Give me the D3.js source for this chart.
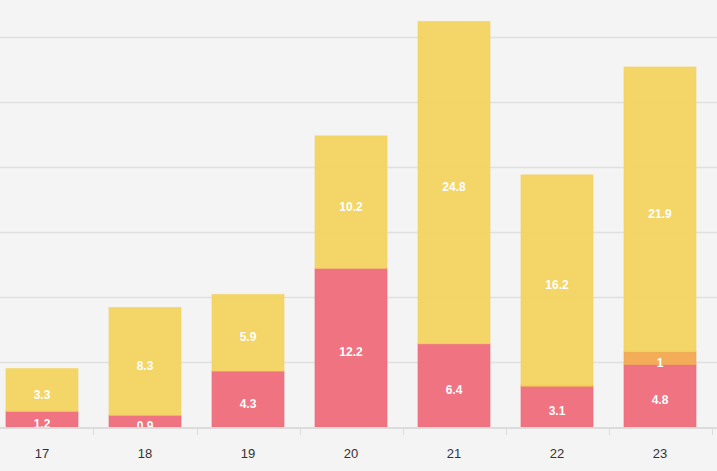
<!DOCTYPE html>
<html>
<head>
<meta charset="utf-8">
<script src="https://cdn.jsdelivr.net/npm/d3@7"></script>
<style>
  html, body { margin: 0; padding: 0; background: #f4f4f4; }
  svg { display: block; }
</style>
</head>
<body>
<div id="chart"></div>
<script>
// data
var categories = ["17", "18", "19", "20", "21", "22", "23"];
var redValues = [1.2, 0.9, 4.3, 12.2, 6.4, 3.1, 4.8];
var orangeValues = [0, 0, 0, 0, 0, 0.1, 1];
var yellowValues = [3.3, 8.3, 5.9, 10.2, 24.8, 16.2, 21.9];
var gridValues = [5, 10, 15, 20, 25, 30];

var seriesKeys = ["red", "orange", "yellow"];
var colors = { red: "#ee6c79", orange: "#f2a94f", yellow: "#f3d35f" };

var width = 717, height = 471;
var baseY = 427;

var rows = categories.map(function(c, i){
	return { cat: c, red: redValues[i], orange: orangeValues[i], yellow: yellowValues[i] };
});

var svg = d3.select("#chart").append("svg")
	.attr("width", width)
	.attr("height", height);

svg.append("rect")
	.attr("width", width)
	.attr("height", height)
	.attr("fill", "#f4f4f4");

var x = d3.scaleBand()
	.domain(categories)
	.range([-9.5, 711.5])
	.paddingInner(0.3)
	.paddingOuter(0.15);

var y = d3.scaleLinear()
	.domain([0, 30])
	.range([baseY, baseY - 30 * 13.0]);

// gridlines
svg.append("g")
	.selectAll("line")
	.data(gridValues)
	.join("line")
	.attr("x1", 0)
	.attr("x2", width)
	.attr("y1", function(d){ return Math.round(y(d)) + 0.5; })
	.attr("y2", function(d){ return Math.round(y(d)) + 0.5; })
	.attr("stroke", "#e0e0e0")
	.attr("stroke-width", 1.5);

// clip to plot area so the low labels get cut like the original
svg.append("clipPath")
	.attr("id", "plotclip")
	.append("rect")
	.attr("x", 0).attr("y", 0)
	.attr("width", width).attr("height", baseY);

var stacked = d3.stack().keys(seriesKeys)(rows);

var plot = svg.append("g").attr("clip-path", "url(#plotclip)");

var layers = plot.selectAll("g.layer")
	.data(stacked)
	.join("g")
	.attr("class", "layer");

layers.selectAll("rect")
	.data(function(s){ return s.map(function(d){ d.key = s.key; return d; }); })
	.join("rect")
	.filter(function(d){ return d[1] - d[0] > 0; })
	.attr("x", function(d){ return x(d.data.cat); })
	.attr("width", x.bandwidth())
	.attr("y", function(d){ return y(d[1]); })
	.attr("height", function(d){ return y(d[0]) - y(d[1]); })
	.attr("fill", function(d){ return colors[d.key]; })
	.attr("fill-opacity", 0.95)
	.attr("stroke", function(d){ return colors[d.key]; })
	.attr("stroke-opacity", 0.5)
	.attr("stroke-width", 1);

// value labels, skip the tiny slices
layers.selectAll("text")
	.data(function(s){ return s.filter(function(d){ return d[1] - d[0] >= 0.5; }); })
	.join("text")
	.attr("x", function(d){ return x(d.data.cat) + x.bandwidth() / 2; })
	.attr("y", function(d){ return (y(d[0]) + y(d[1])) / 2; })
	.attr("dy", "0.72em")
	.attr("text-anchor", "middle")
	.attr("font-family", "Liberation Sans, Arial, sans-serif")
	.attr("font-size", "12px")
	.attr("font-weight", "bold")
	.attr("fill", "#ffffff")
	.text(function(d){ return +(d[1] - d[0]).toFixed(1); });

// x axis
var xAxis = svg.append("g")
	.attr("transform", "translate(0," + (baseY + 1) + ")");

xAxis.append("line")
	.attr("x1", 0).attr("x2", width)
	.attr("y1", 0).attr("y2", 0)
	.attr("stroke", "#dcdcdc")
	.attr("stroke-width", 2);

var step = x.step();
xAxis.selectAll("line.tick")
	.data(categories)
	.join("line")
	.attr("class", "tick")
	.attr("x1", function(c){ return Math.round(x(c) + x.bandwidth() / 2 + step / 2) + 0.5; })
	.attr("x2", function(c){ return Math.round(x(c) + x.bandwidth() / 2 + step / 2) + 0.5; })
	.attr("y1", 0).attr("y2", 7)
	.attr("stroke", "#dcdcdc");

xAxis.selectAll("text")
	.data(categories)
	.join("text")
	.attr("x", function(c){ return x(c) + x.bandwidth() / 2; })
	.attr("y", 30)
	.attr("text-anchor", "middle")
	.attr("font-family", "Liberation Sans, Arial, sans-serif")
	.attr("font-size", "13px")
	.attr("fill", "#333")
	.text(function(c){ return c; });
</script>
</body>
</html>
